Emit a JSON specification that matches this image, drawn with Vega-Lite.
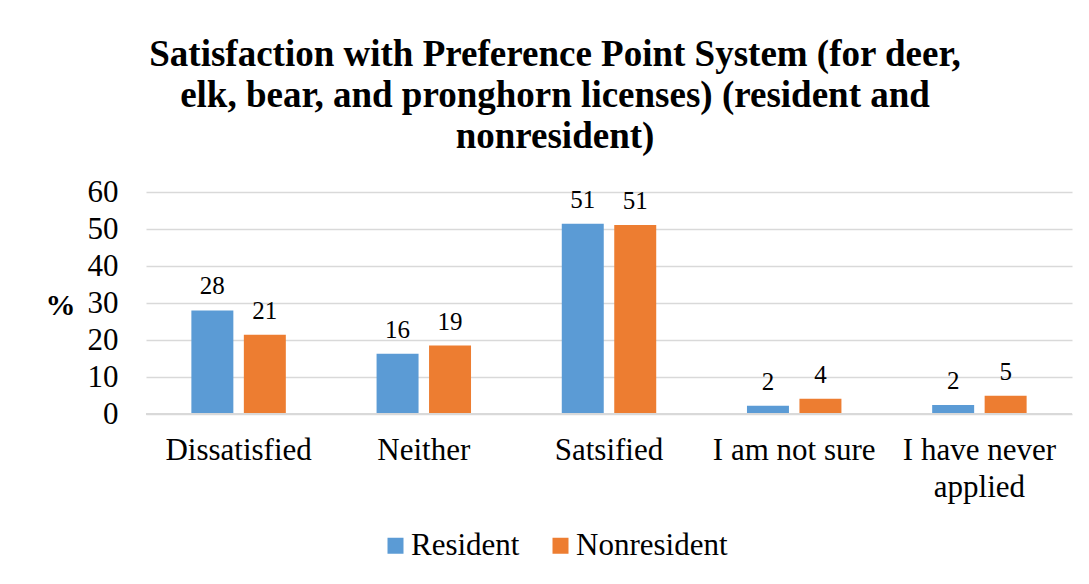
{
  "$schema": "https://vega.github.io/schema/vega-lite/v6.json",
  "width": 926,
  "height": 222,
  "autosize": "none",
  "padding": {"left": 146, "top": 192, "right": 17, "bottom": 170},
  "background": "white",
  "title": {
    "text": ["Satisfaction with Preference Point System (for deer,", "elk, bear, and pronghorn licenses) (resident and", "nonresident)"],
    "font": "Times New Roman, Liberation Serif, serif",
    "fontSize": 37,
    "fontWeight": "bold",
    "color": "#000000",
    "lineHeight": 41,
    "anchor": "middle",
    "frame": "group",
    "dx": -54,
    "offset": 20
  },
  "data": {
    "values": [
      {"category": "Dissatisfied", "group": "Resident", "value": 28},
      {"category": "Dissatisfied", "group": "Nonresident", "value": 21.4},
      {"category": "Neither", "group": "Resident", "value": 16.3},
      {"category": "Neither", "group": "Nonresident", "value": 18.5},
      {"category": "Satsified", "group": "Resident", "value": 51.4},
      {"category": "Satsified", "group": "Nonresident", "value": 51.1},
      {"category": "I am not sure", "group": "Resident", "value": 2.2},
      {"category": "I am not sure", "group": "Nonresident", "value": 4.1},
      {"category": "I have never applied", "group": "Resident", "value": 2.4},
      {"category": "I have never applied", "group": "Nonresident", "value": 4.9}
    ]
  },
  "encoding": {
    "x": {
      "field": "category",
      "type": "nominal",
      "sort": null,
      "scale": {"paddingInner": 0.49, "paddingOuter": 0.245},
      "axis": {
        "title": null,
        "labelAngle": 0,
        "labelFont": "Times New Roman, Liberation Serif, serif",
        "labelFontSize": 31,
        "labelColor": "#000000",
        "labelPadding": 21,
        "ticks": false,
        "domain": false,
        "labelExpr": "datum.label == 'I have never applied' ? ['I have never', 'applied'] : datum.label",
        "labelLineHeight": 37,
        "labelBaseline": "top"
      }
    },
    "xOffset": {
      "field": "group",
      "type": "nominal",
      "sort": ["Resident", "Nonresident"],
      "scale": {"paddingInner": 0.2, "paddingOuter": 0}
    },
    "y": {
      "field": "value",
      "type": "quantitative",
      "scale": {"domain": [0, 60]},
      "axis": {
        "values": [0, 10, 20, 30, 40, 50, 60],
        "title": "%",
        "titleAngle": 0,
        "titleFont": "Times New Roman, Liberation Serif, serif",
        "titleFontSize": 30,
        "titleFontWeight": "bold",
        "titleColor": "#000000",
        "titleX": -86,
        "titleY": 113,
        "titleAlign": "center",
        "titleBaseline": "middle",
        "labelFont": "Times New Roman, Liberation Serif, serif",
        "labelFontSize": 31,
        "labelColor": "#000000",
        "labelPadding": 28,
        "ticks": false,
        "domain": false,
        "grid": true,
        "gridColor": "#d9d9d9",
        "gridWidth": 1.5
      }
    }
  },
  "layer": [
    {
      "mark": {"type": "bar"},
      "encoding": {
        "color": {
          "field": "group",
          "type": "nominal",
          "sort": ["Resident", "Nonresident"],
          "scale": {"domain": ["Resident", "Nonresident"], "range": ["#5b9bd5", "#ed7d31"]},
          "legend": {
            "title": null,
            "orient": "none",
            "direction": "horizontal",
            "legendX": 234,
            "legendY": 338,
            "symbolType": "square",
            "symbolSize": 256,
            "symbolStrokeWidth": 0,
            "labelFont": "Times New Roman, Liberation Serif, serif",
            "labelFontSize": 31,
            "labelColor": "#000000",
            "labelOffset": 0,
            "columnPadding": 25,
            "symbolOpacity": 1
          }
        }
      }
    },
    {
      "mark": {"type": "text", "baseline": "bottom", "dy": -11, "font": "Times New Roman, Liberation Serif, serif", "fontSize": 25, "color": "#000000"},
      "encoding": {
        "text": {"field": "value", "type": "quantitative", "format": ".0f"}
      }
    },
    {
      "mark": {"type": "rule", "color": "#d9d9d9", "strokeWidth": 1.5},
      "encoding": {"y": {"datum": 0}, "x": {"value": 0}, "x2": {"value": 926}, "xOffset": null}
    }
  ],
  "config": {"view": {"stroke": null}}
}
